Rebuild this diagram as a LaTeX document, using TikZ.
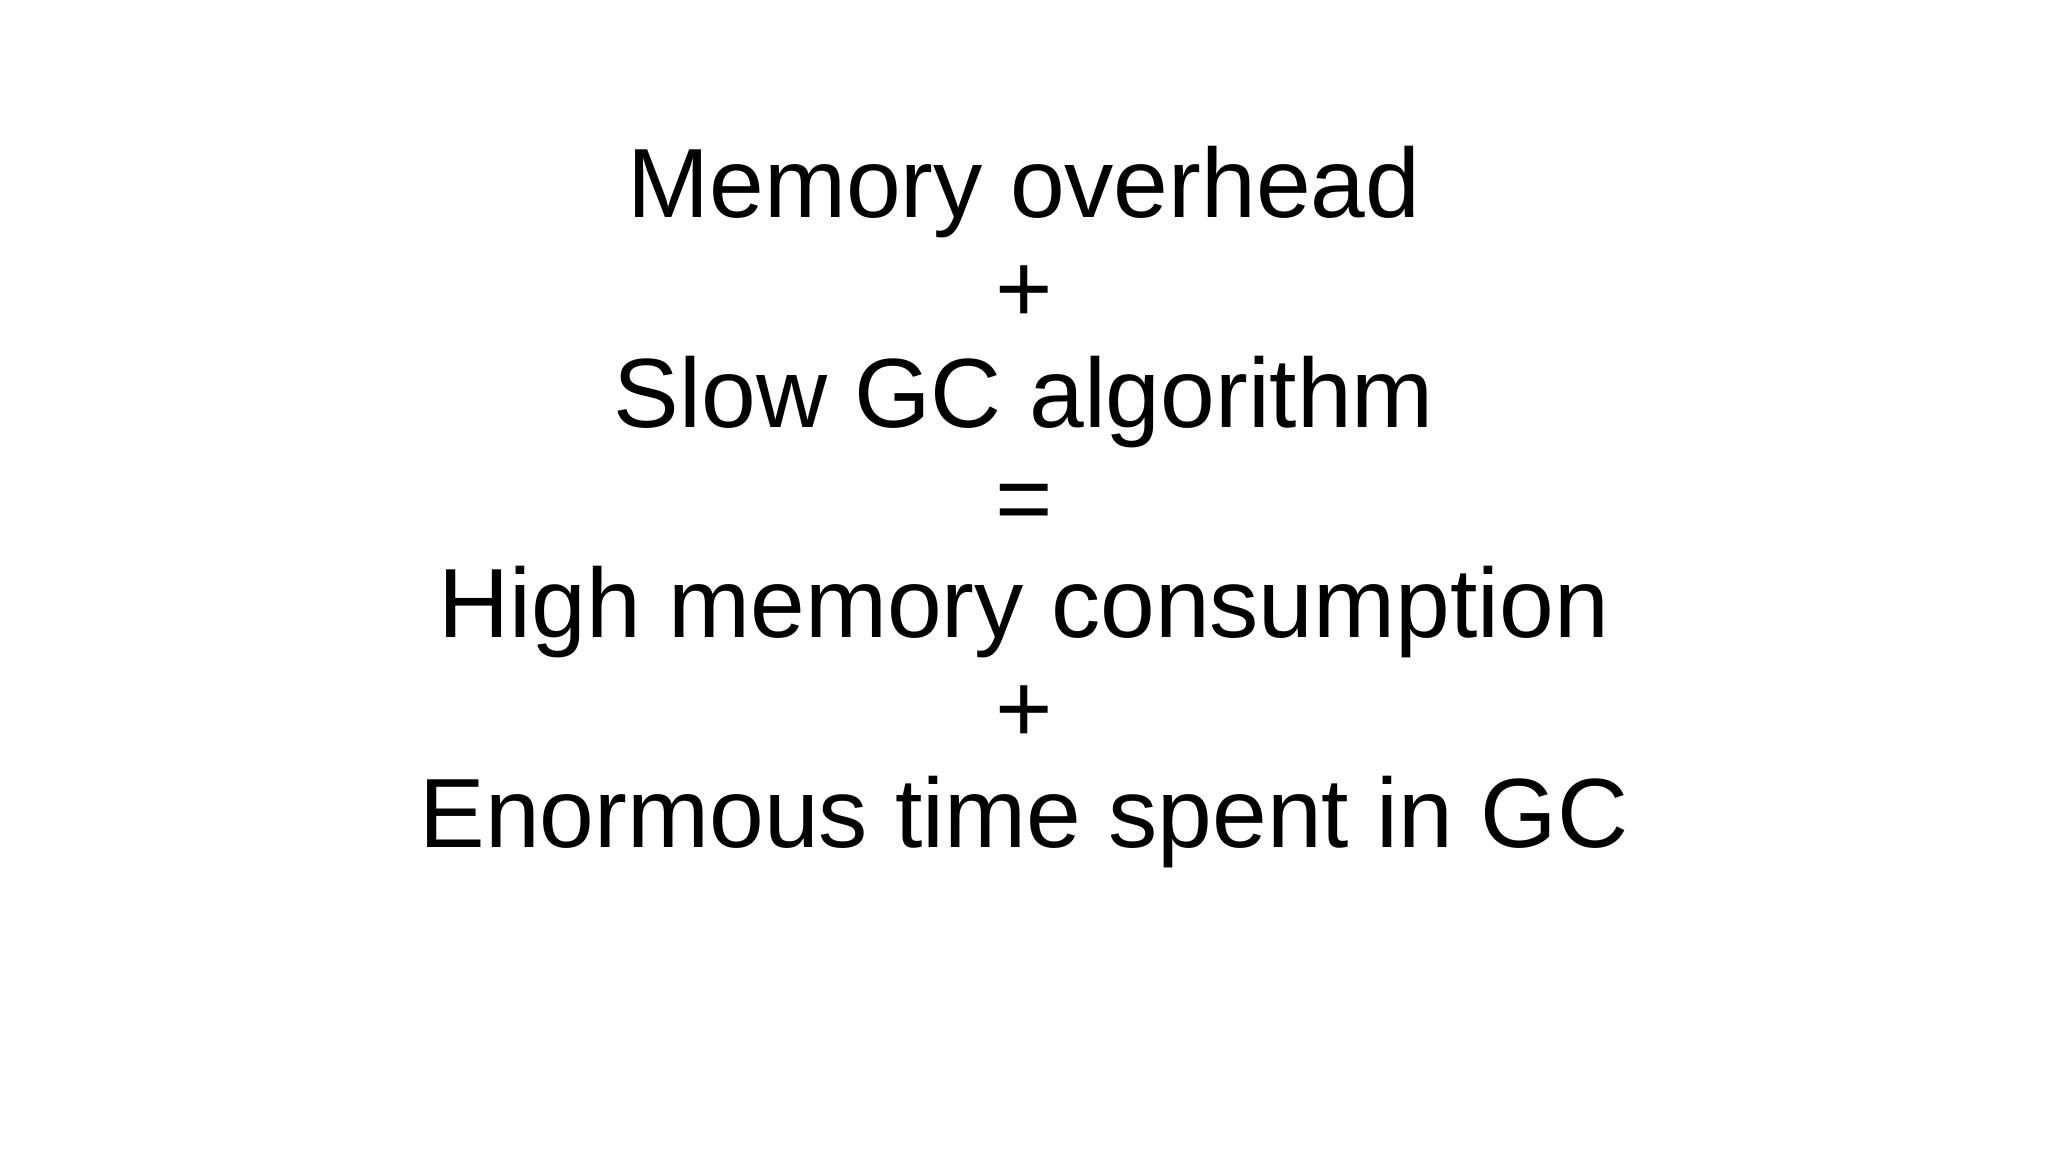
\documentclass[tikz,border=0pt]{standalone}
\usepackage{fontspec}
\setmainfont{Liberation Sans}
\begin{document}
\begin{tikzpicture}[x=1cm,y=1cm,
  ln/.style={anchor=base,inner sep=0pt,font=\fontsize{28}{34}\selectfont}]
\useasboundingbox[fill=white] (0,0) rectangle (20.48,11.54);
\node[ln] (l1) at (10.24,9.36) {Memory overhead};
\node[ln] (l2) at (10.24,8.31) {+};
\node[ln] (l3) at (10.24,7.26) {Slow GC algorithm};
\node[ln] (l4) at (10.24,6.21) {=};
\node[ln] (l5) at (10.24,5.16) {High memory consumption};
\node[ln] (l6) at (10.24,4.11) {+};
\node[ln] (l7) at (10.24,3.06) {Enormous time spent in GC};
\end{tikzpicture}
\end{document}
